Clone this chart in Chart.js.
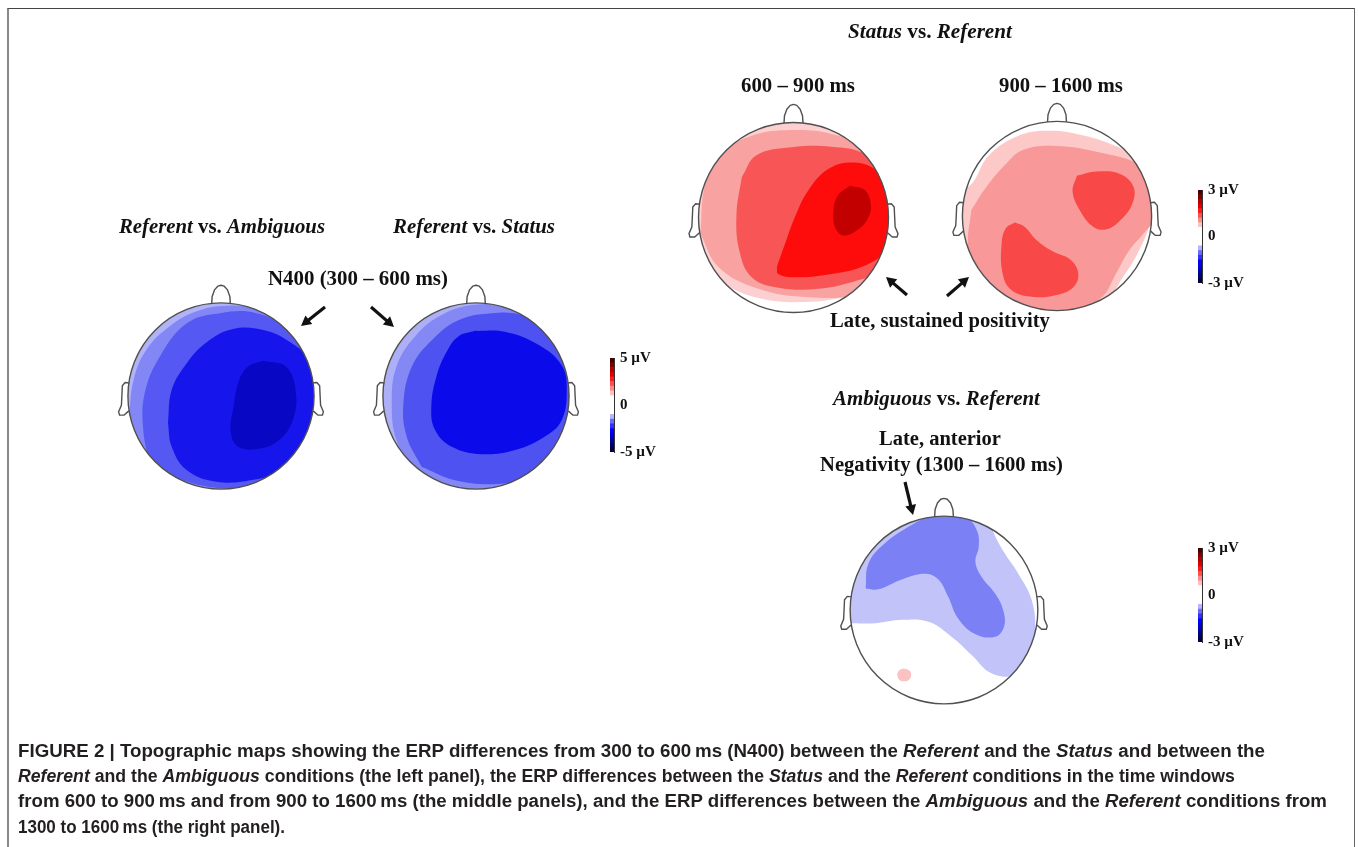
<!DOCTYPE html>
<html>
<head>
<meta charset="utf-8">
<script src="https://cdn.jsdelivr.net/npm/chart.js@4.4.1/dist/chart.umd.min.js"></script>
<style>
  html, body { margin: 0; padding: 0; background: #fff; }
  body { width: 1358px; height: 847px; position: relative; overflow: hidden; }
  #frame { position: absolute; left: 7px; top: 8px; width: 1348px; height: 900px;
           border-top: 1px solid #444; border-right: 1px solid #666; border-left: 2px solid #888; box-sizing: border-box; }
  .lbl { position: absolute; white-space: nowrap; font-family: "Liberation Serif", "Times New Roman", serif;
         font-weight: bold; color: #111; line-height: 1; }
  .cap { position: absolute; left: 18px; white-space: nowrap; font-family: "Liberation Sans", Arial, sans-serif;
         font-weight: bold; font-size: 17.5px; color: #231f20; line-height: 1; transform-origin: 0 50%; }
  .box { position: absolute; }
  canvas { display: block; }
  svg { position: absolute; left: 0; top: 0; }
</style>
</head>
<body>
<div id="frame"></div>
<div id="heads"></div>
<svg id="arrows" width="1358" height="847"></svg>
<div id="labels"></div>

<script>
// ---- Head geometry (radius 1, nose up) ----
const noseOutline = [[-0.10,0.995],[-0.095,1.07],[-0.07,1.14],[-0.035,1.18],[0,1.19],[0.035,1.18],[0.07,1.14],[0.095,1.07],[0.10,0.995]];
const earOutline = [[-0.985,0.14],[-1.03,0.145],[-1.06,0.11],[-1.065,0.0],[-1.07,-0.10],[-1.10,-0.17],[-1.09,-0.205],[-1.04,-0.205],[-0.99,-0.16]];
const fullField = [[-1.3,-1.3],[1.3,-1.3],[1.3,1.3],[-1.3,1.3]];

// ---- Referent vs. Ambiguous, N400 (300–600 ms) ----
const refAmbRing1 = [[-0.99,-0.26],[-0.94,0.17],[-0.80,0.50],[-0.55,0.75],[-0.26,0.91],[0.06,0.97],[0.42,0.93],[0.81,0.71],[1.3,0.8],[1.35,-1.35],[-1.35,-1.35],[-1.3,-0.35]];
const refAmbRing2 = [[-0.76,-0.76],[-0.835,-0.37],[-0.82,0.03],[-0.66,0.42],[-0.37,0.78],[-0.01,0.89],[0.38,0.89],[0.74,0.71],[1.03,0.42],[1.32,0.0],[1.17,-0.69],[0.85,-0.76],[0.49,-0.94],[-0.01,-0.99],[-0.48,-0.885]];
const refAmbCore = [[-0.57,-0.29],[-0.53,0.065],[-0.37,0.35],[-0.15,0.58],[0.13,0.72],[0.455,0.71],[0.74,0.58],[0.99,0.35],[1.10,0.0],[1.03,-0.40],[0.885,-0.615],[0.67,-0.795],[0.35,-0.90],[-0.05,-0.92],[-0.37,-0.795],[-0.53,-0.545]];
const refAmbPeak = [[0.455,0.38],[0.705,0.31],[0.805,0.03],[0.77,-0.26],[0.635,-0.465],[0.42,-0.565],[0.185,-0.545],[0.105,-0.385],[0.135,-0.115],[0.195,0.17],[0.295,0.32]];
const refAmbColors = ['#b1b3f7', '#8387f5', '#5558f2', '#1616ec', '#0707c4'];

// ---- Referent vs. Status, N400 (300–600 ms) ----
const refStaRing1 = [[-0.26,-1.05],[-0.655,-0.83],[-0.855,-0.47],[-0.905,-0.08],[-0.855,0.315],[-0.655,0.64],[-0.37,0.87],[-0.01,0.98],[0.385,0.945],[0.81,0.75],[1.3,1.0],[1.35,-1.35],[0.0,-1.35]];
const refStaRing2 = [[-0.585,-0.76],[-0.745,-0.435],[-0.78,-0.08],[-0.69,0.315],[-0.475,0.60],[-0.19,0.815],[0.17,0.89],[0.49,0.87],[0.815,0.71],[1.10,0.42],[1.24,-0.19],[1.03,-0.62],[0.67,-0.85],[0.24,-0.945],[-0.225,-0.905]];
const refStaCore = [[-0.01,0.70],[0.31,0.69],[0.67,0.55],[0.92,0.33],[0.975,0.065],[0.92,-0.26],[0.74,-0.435],[0.42,-0.58],[0.06,-0.625],[-0.26,-0.545],[-0.44,-0.365],[-0.48,-0.115],[-0.425,0.21],[-0.315,0.475],[-0.19,0.64]];
const refStaColors = ['#aeb0f7', '#8488f5', '#4e52f1', '#0a0aea'];

// ---- Status vs. Referent, 600–900 ms ----
const sta600Ring1 = [[-1.0,-0.42],[-0.72,-0.70],[-0.335,-0.855],[0.12,-0.89],[0.54,-0.84],[0.96,-0.73],[1.4,-0.5],[1.4,1.4],[-1.4,1.4],[-1.4,-0.4]];
const sta600Ring2 = [[-0.98,-0.17],[-0.93,0.35],[-0.76,0.67],[-0.44,0.86],[-0.02,0.92],[0.40,0.88],[0.82,0.71],[1.31,0.18],[1.14,-0.70],[0.68,-0.82],[0.16,-0.84],[-0.37,-0.75],[-0.79,-0.52]];
const sta600Ring3 = [[-0.545,0.425],[-0.39,0.655],[-0.02,0.74],[0.40,0.745],[0.75,0.67],[1.03,0.42],[1.31,-0.17],[1.03,-0.52],[0.68,-0.66],[0.26,-0.75],[-0.16,-0.74],[-0.44,-0.63],[-0.57,-0.35],[-0.60,0.04]];
const sta600Core = [[-0.175,-0.52],[-0.09,-0.28],[0.015,0.005],[0.155,0.285],[0.365,0.51],[0.61,0.58],[0.86,0.51],[1.0,0.32],[1.05,-0.03],[0.965,-0.345],[0.755,-0.505],[0.40,-0.595],[0.015,-0.63],[-0.16,-0.595]];
const sta600Peak = [[0.595,0.335],[0.755,0.285],[0.815,0.125],[0.78,-0.015],[0.675,-0.13],[0.535,-0.19],[0.445,-0.12],[0.42,0.055],[0.465,0.23]];
const sta600Colors = ['#ffffff', '#fcd0d0', '#f9a2a2', '#f85656', '#fe0c0c', '#c20000'];

// ---- Status vs. Referent, 900–1600 ms ----
const sta900Ring1 = [[-1.4,-1.4],[-1.4,0.2],[-0.95,0.30],[-0.72,0.64],[-0.40,0.85],[-0.07,0.90],[0.28,0.85],[0.62,0.74],[0.90,0.60],[1.15,0.40],[1.02,0.0],[0.85,-0.40],[0.64,-0.74],[0.50,-1.0],[0.4,-1.4]];
const sta900Ring2 = [[-0.905,0.065],[-0.745,0.31],[-0.535,0.555],[-0.355,0.70],[-0.005,0.74],[0.455,0.67],[0.88,0.54],[1.13,0.31],[1.05,-0.01],[0.915,-0.185],[0.755,-0.375],[0.615,-0.625],[0.475,-0.855],[0.21,-0.975],[-0.215,-0.995],[-0.605,-0.89],[-0.85,-0.64],[-0.94,-0.325]];
const sta900BlobR = [[0.21,0.425],[0.42,0.47],[0.665,0.445],[0.81,0.305],[0.79,0.115],[0.665,-0.05],[0.525,-0.14],[0.385,-0.115],[0.25,0.045],[0.165,0.255]];
const sta900BlobL = [[-0.445,-0.07],[-0.34,-0.115],[-0.215,-0.255],[-0.04,-0.375],[0.14,-0.46],[0.225,-0.605],[0.175,-0.75],[-0.005,-0.835],[-0.25,-0.855],[-0.48,-0.785],[-0.575,-0.605],[-0.585,-0.29],[-0.54,-0.13]];
const sta900Colors = ['#ffffff', '#fcc8c8', '#f89898', '#f84848'];

// ---- Ambiguous vs. Referent, 1300–1600 ms ----
const ambLight = [[-1.3,-0.14],[-0.98,-0.14],[-0.73,-0.14],[-0.45,-0.105],[-0.165,-0.125],[0.08,-0.285],[0.295,-0.48],[0.505,-0.675],[0.755,-0.69],[0.915,-0.495],[0.97,-0.215],[0.935,0.105],[0.79,0.39],[0.615,0.655],[0.505,0.89],[0.4,1.3],[-1.3,1.3]];
const ambCore = [[-0.835,0.23],[-0.805,0.495],[-0.63,0.71],[-0.345,0.905],[-0.095,1.02],[0.225,0.99],[0.35,0.85],[0.37,0.675],[0.335,0.515],[0.40,0.355],[0.545,0.175],[0.63,0.0],[0.64,-0.175],[0.545,-0.285],[0.33,-0.255],[0.15,-0.09],[0.045,0.14],[-0.06,0.325],[-0.20,0.385],[-0.45,0.325],[-0.70,0.22]];
const ambPos = [[-0.50,-0.69],[-0.48,-0.645],[-0.43,-0.625],[-0.37,-0.645],[-0.35,-0.69],[-0.37,-0.74],[-0.43,-0.76],[-0.48,-0.74]];
const ambColors = ['#ffffff', '#c1c3f9', '#7c80f5', '#fbc2c2'];

// ---- Colour scales (fraction of range, bottom to top) ----
const barEdges = [-1,-0.9,-0.8,-0.7,-0.6,-0.5,-0.4,-0.3,-0.2,-0.1,0,0.1,0.2,0.3,0.4,0.5,0.6,0.7,0.8,0.9,1];
const barColors = ['#000040','#000070','#0000a4','#0000d4','#0000ff','#3030ff','#6a6aff','#b4b4ff','#ffffff','#ffffff',
                   '#ffffff','#ffffff','#ffc0c0','#ff8a8a','#ff5050','#ff1a1a','#e00000','#b00000','#800000','#450000'];
const barLimitN400 = 5;
const barLimitLate = 3;

// Overlay head outline; contours are clipped to the scalp circle
const scalp = {
  id: 'scalp',
  beforeDatasetsDraw(chart) {
    const { ctx, scales: { x, y } } = chart;
    const cx = x.getPixelForValue(0), cy = y.getPixelForValue(0);
    const r = x.getPixelForValue(1) - cx;
    ctx.save();
    ctx.beginPath();
    ctx.arc(cx, cy, r, 0, Math.PI * 2);
    ctx.clip();
  },
  afterDatasetsDraw(chart) {
    const { ctx, scales: { x, y } } = chart;
    ctx.restore();
    const cx = x.getPixelForValue(0), cy = y.getPixelForValue(0);
    const r = x.getPixelForValue(1) - cx;
    ctx.save();
    ctx.strokeStyle = '#505050';
    ctx.lineWidth = 1.4;
    ctx.lineJoin = 'round';
    ctx.beginPath();
    ctx.arc(cx, cy, r, 0, Math.PI * 2);
    ctx.stroke();
    const path = (pts, sx) => {
      ctx.beginPath();
      pts.forEach((p, i) => {
        const px = x.getPixelForValue(p[0] * sx), py = y.getPixelForValue(p[1]);
        i ? ctx.lineTo(px, py) : ctx.moveTo(px, py);
      });
      ctx.stroke();
    };
    path(noseOutline, 1);
    path(earOutline, 1);
    path(earOutline, -1);
    ctx.restore();
  }
};

function headMap(left, top, size, layers) {
  const holder = document.createElement('div');
  holder.className = 'box';
  holder.style.left = left + 'px';
  holder.style.top = top + 'px';
  const cv = document.createElement('canvas');
  cv.width = size; cv.height = size;
  cv.style.width = size + 'px'; cv.style.height = size + 'px';
  holder.appendChild(cv);
  document.getElementById('heads').appendChild(holder);
  // lower levels first in the list; 'order' makes later levels paint on top
  const datasets = layers.map(([pts, color, t], i) => ({
    data: pts.concat([pts[0]]).map(p => ({ x: p[0], y: p[1] })),
    order: layers.length - i,
    showLine: true,
    fill: 'shape',
    backgroundColor: color,
    borderColor: 'rgba(0,0,0,0)',
    borderWidth: 0,
    pointRadius: 0,
    pointHoverRadius: 0,
    tension: t === undefined ? 0.4 : t
  }));
  new Chart(cv, {
    type: 'scatter',
    data: { datasets },
    options: {
      responsive: false, animation: false, devicePixelRatio: 1, events: [],
      layout: { padding: 0, autoPadding: false },
      plugins: { legend: { display: false }, tooltip: { enabled: false } },
      scales: {
        x: { type: 'linear', min: -1.3, max: 1.3, display: false },
        y: { type: 'linear', min: -1.3, max: 1.3, display: false }
      }
    },
    plugins: [scalp]
  });
}

function colourBar(left, top, barH, limit) {
  const pad = 10, axisW = 54, barW = 4;
  const holder = document.createElement('div');
  holder.className = 'box';
  holder.style.left = left + 'px';
  holder.style.top = (top - pad) + 'px';
  const cv = document.createElement('canvas');
  cv.width = barW + axisW; cv.height = barH + 2 * pad;
  cv.style.width = cv.width + 'px'; cv.style.height = cv.height + 'px';
  holder.appendChild(cv);
  document.getElementById('heads').appendChild(holder);
  const datasets = barColors.map((c, i) => ({
    data: [[barEdges[i] * limit, barEdges[i + 1] * limit]],
    backgroundColor: c, borderWidth: 0, barPercentage: 1, categoryPercentage: 1
  }));
  new Chart(cv, {
    type: 'bar',
    data: { labels: [''], datasets },
    options: {
      responsive: false, animation: false, devicePixelRatio: 1, events: [],
      layout: { padding: { top: pad, bottom: pad, left: 0, right: 0 }, autoPadding: false },
      plugins: { legend: { display: false }, tooltip: { enabled: false } },
      scales: {
        x: { stacked: true, display: false },
        y: {
          position: 'right', min: -limit, max: limit,
          grid: { display: false, drawTicks: false },
          border: { display: true, color: '#333', width: 1 },
          afterBuildTicks: s => { s.ticks = [{ value: -limit }, { value: 0 }, { value: limit }]; },
          afterFit: s => { s.width = axisW; },
          ticks: {
            padding: 6, color: '#111',
            font: { family: '"Liberation Serif", "Times New Roman", serif', weight: 'bold', size: 15 },
            callback: v => (v === 0 ? '0' : v + ' \u00b5V')
          }
        }
      }
    }
  });
}

// Topographic maps: left/top of canvas, canvas size (2.6 head radii)
headMap(221 - 121, 396 - 121, 242, [[fullField, refAmbColors[0], 0], [refAmbRing1, refAmbColors[1]], [refAmbRing2, refAmbColors[2]], [refAmbCore, refAmbColors[3]], [refAmbPeak, refAmbColors[4]]]);
headMap(476 - 121, 396 - 121, 242, [[fullField, refStaColors[0], 0], [refStaRing1, refStaColors[1]], [refStaRing2, refStaColors[2]], [refStaCore, refStaColors[3]]]);
headMap(793.5 - 123.5, 217 - 123.5, 247, [[fullField, sta600Colors[0], 0], [sta600Ring1, sta600Colors[1]], [sta600Ring2, sta600Colors[2]], [sta600Ring3, sta600Colors[3]], [sta600Core, sta600Colors[4]], [sta600Peak, sta600Colors[5]]]);
headMap(1057 - 123, 216 - 123, 246, [[fullField, sta900Colors[0], 0], [sta900Ring1, sta900Colors[1]], [sta900Ring2, sta900Colors[2]], [sta900BlobR, sta900Colors[3]], [sta900BlobL, sta900Colors[3]]]);
headMap(944 - 122, 610 - 122, 244, [[fullField, ambColors[0], 0], [ambLight, ambColors[1]], [ambCore, ambColors[2]], [ambPos, ambColors[3]]]);

colourBar(610, 353, 104, barLimitN400);
colourBar(1198, 185, 103, barLimitLate);
colourBar(1198, 543, 104, barLimitLate);

// Pointer arrows
const arrows = [[325, 307, 301, 326], [371, 307, 394, 327], [907, 295, 886, 277], [947, 296, 969, 277], [905, 482, 913, 515]];
const svg = document.getElementById('arrows');
arrows.forEach(([x1, y1, x2, y2]) => {
  const dx = x2 - x1, dy = y2 - y1, L = Math.hypot(dx, dy), ux = dx / L, uy = dy / L;
  const hl = 10, hw = 5.5;
  const bx = x2 - ux * hl, by = y2 - uy * hl;
  const line = document.createElementNS('http://www.w3.org/2000/svg', 'line');
  line.setAttribute('x1', x1); line.setAttribute('y1', y1);
  line.setAttribute('x2', bx + ux); line.setAttribute('y2', by + uy);
  line.setAttribute('stroke', '#111'); line.setAttribute('stroke-width', '3.2');
  svg.appendChild(line);
  const head = document.createElementNS('http://www.w3.org/2000/svg', 'polygon');
  head.setAttribute('points', `${x2},${y2} ${bx - uy * hw},${by + ux * hw} ${bx + uy * hw},${by - ux * hw}`);
  head.setAttribute('fill', '#111');
  svg.appendChild(head);
});

// Panel titles: html, left, vertical centre, width
const titles = [
  ['<i>Status</i> vs. <i>Referent</i>', 848, 32, 164],
  ['600 \u2013 900 ms', 741, 86, 114],
  ['900 \u2013 1600 ms', 999, 86, 124],
  ['<i>Referent</i> vs. <i>Ambiguous</i>', 119, 227, 206],
  ['<i>Referent</i> vs. <i>Status</i>', 393, 227, 162],
  ['N400 (300 \u2013 600 ms)', 268, 279, 180],
  ['Late, sustained positivity', 830, 321, 220],
  ['<i>Ambiguous</i> vs. <i>Referent</i>', 833, 399, 207],
  ['Late, anterior', 879, 439, 122],
  ['Negativity (1300 \u2013 1600 ms)', 820, 465, 243]
];
const lab = document.getElementById('labels');
titles.forEach(([html, x, yc, w]) => {
  const d = document.createElement('div');
  d.className = 'lbl';
  d.innerHTML = html;
  d.style.fontSize = '19px';
  lab.appendChild(d);
  const fs = 19 * w / d.getBoundingClientRect().width;
  d.style.fontSize = fs.toFixed(2) + 'px';
  d.style.left = x + 'px';
  d.style.top = (yc - fs * 0.52) + 'px';
});

// Figure caption, one line per row, each squeezed to its line length
const captionLines = [
  ['FIGURE 2 | Topographic maps showing the ERP differences from 300 to 600\u2009ms (N400) between the <i>Referent</i> and the <i>Status</i> and between the', 752, 1247],
  ['<i>Referent</i> and the <i>Ambiguous</i> conditions (the left panel), the ERP differences between the <i>Status</i> and the <i>Referent</i> conditions in the time windows', 777, 1217],
  ['from 600 to 900\u2009ms and from 900 to 1600\u2009ms (the middle panels), and the ERP differences between the <i>Ambiguous</i> and the <i>Referent</i> conditions from', 802, 1309],
  ['1300 to 1600\u2009ms (the right panel).', 828, 267]
];
captionLines.forEach(([html, yc, w]) => {
  const d = document.createElement('div');
  d.className = 'cap';
  d.innerHTML = html;
  d.style.top = (yc - 9) + 'px';
  lab.appendChild(d);
  const nat = d.getBoundingClientRect().width;
  d.style.transform = 'scaleX(' + (w / nat).toFixed(4) + ')';
});
</script>
</body>
</html>
